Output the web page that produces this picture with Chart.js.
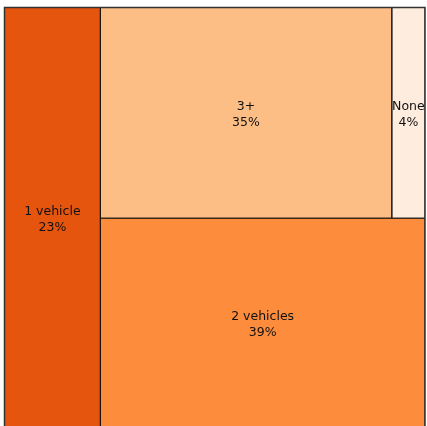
<!DOCTYPE html>
<html>
<head>
<meta charset="utf-8">
<script src="https://cdn.jsdelivr.net/npm/chart.js@4/dist/chart.umd.min.js"></script>
<style>
html,body{margin:0;padding:0;overflow:hidden;background:#fff;}
#wrap{width:427px;height:430px;}
</style>
</head>
<body>
<div id="wrap"><canvas id="c" width="427" height="430" style="width:427px;height:430px"></canvas></div>
<script>
// Data
const categories = ["1 vehicle", "2 vehicles", "3+", "None"];
const values = [23, 39, 35, 4];
const percentLabels = ["23%", "39%", "35%", "4%"];
const colors = ["#E6550D", "#FD8D3C", "#FDBE85", "#FEEDDE"];

// Treemap layout (fractions of a unit square) computed from values
const total = values.reduce((a, b) => a + b, 0);
const x1 = values[0] / total;
const restSum = values[1] + values[2] + values[3];
const h2 = values[1] / restSum;
const topSum = values[2] + values[3];
const x2 = x1 + (1 - x1) * values[2] / topSum;
const rects = [
  {x0: 0, x1: x1, y0: 0, y1: 1},
  {x0: x1, x1: 1, y0: 0, y1: h2},
  {x0: x1, x1: x2, y0: h2, y1: 1},
  {x0: x2, x1: 1, y0: h2, y1: 1}
];

const datasets = rects.map((r, i) => ({
  label: categories[i],
  data: [{x: r.x0, y: r.y0}, {x: r.x1, y: r.y0}, {x: r.x1, y: r.y1}, {x: r.x0, y: r.y1}, {x: r.x0, y: r.y0}],
  showLine: true,
  fill: 'shape',
  backgroundColor: colors[i],
  borderColor: '#111',
  borderWidth: 1,
  pointRadius: 0,
  pointHoverRadius: 0,
  tension: 0
}));

const labelPlugin = {
  id: 'tmLabels',
  afterDatasetsDraw(chart) {
    const {ctx, scales: {x, y}} = chart;
    ctx.save();
    ctx.strokeStyle = '#333';
    ctx.lineWidth = 1.5;
    const L = x.getPixelForValue(0), R = x.getPixelForValue(1);
    const T = y.getPixelForValue(1), B = y.getPixelForValue(0);
    ctx.strokeRect(L, T, R - L, B - T);
    ctx.fillStyle = '#111';
    ctx.font = '12.5px "DejaVu Sans"';
    ctx.textAlign = 'center';
    ctx.textBaseline = 'middle';
    rects.forEach((r, i) => {
      const cx = x.getPixelForValue((r.x0 + r.x1) / 2);
      const cy = y.getPixelForValue((r.y0 + r.y1) / 2);
      ctx.fillText(categories[i], cx, cy - 6.5);
      ctx.fillText(percentLabels[i], cx, cy + 9.5);
    });
    ctx.restore();
  }
};

new Chart(document.getElementById('c'), {
  type: 'scatter',
  data: {datasets},
  options: {
    responsive: false,
    animation: false,
    devicePixelRatio: 1,
    layout: {padding: {left: 4.5, top: 7.5, right: 2, bottom: 1}},
    plugins: {legend: {display: false}, tooltip: {enabled: false}},
    scales: {
      x: {type: 'linear', min: 0, max: 1, display: false},
      y: {type: 'linear', min: 0, max: 1, display: false}
    }
  },
  plugins: [labelPlugin]
});
</script>
</body>
</html>
